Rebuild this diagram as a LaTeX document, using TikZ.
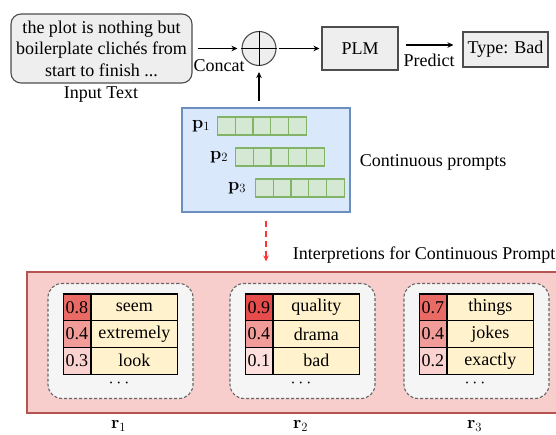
\documentclass[tikz,border=0pt]{standalone}
\usepackage{fix-cm}
\usepackage[no-math]{fontspec}
\setmainfont{Liberation Serif}
\usepackage{amsmath}
\usetikzlibrary{arrows.meta,calc,positioning}

\definecolor{boxfill}{HTML}{EEEEEE}
\definecolor{boxline}{HTML}{4D4D4D}
\definecolor{promptfill}{HTML}{DAE8FC}
\definecolor{promptline}{HTML}{6C8EBF}
\definecolor{cellfill}{HTML}{D5E8D4}
\definecolor{cellline}{HTML}{82B366}
\definecolor{interpfill}{HTML}{F8CECC}
\definecolor{interpline}{HTML}{B85450}
\definecolor{innerfill}{HTML}{F5F5F5}
\definecolor{wordfill}{HTML}{FFF2CC}
\definecolor{arrowred}{HTML}{FF3333}
\definecolor{s9}{HTML}{E64C4C}
\definecolor{s8}{HTML}{EA6B66}
\definecolor{s4}{HTML}{F19C99}
\definecolor{s3}{HTML}{FAD2D0}
\definecolor{s1}{HTML}{FDE0DE}

\tikzset{
  graybox/.style={draw=boxline, fill=boxfill, inner sep=0pt},
  tokcell/.style={draw=cellline, fill=cellfill, minimum width=17.7pt, minimum height=18pt, inner sep=0pt, anchor=west},
  innerbox/.style={draw=black!60, fill=innerfill, dash pattern=on 3pt off 2pt, rounded corners=14pt,
    minimum width=145pt, minimum height=115pt},
  numcell/.style={draw=black, minimum width=26.7pt, minimum height=26.7pt, inner sep=0pt, anchor=north west},
  wordcell/.style={draw=black, fill=wordfill, minimum width=86pt, minimum height=26.7pt, inner sep=0pt, anchor=west},
}

\begin{document}
\begin{tikzpicture}[x=1pt, y=-1pt, line width=1.1pt, font=\fontsize{18}{21.6}\selectfont,
  >={Stealth[length=6pt,width=5.5pt]}]
\useasboundingbox (0,0) rectangle (556,435);
\clip (0,0) rectangle (556,435);

% top row
\node[graybox, rounded corners=10pt, align=center, minimum width=181pt, minimum height=69pt] (inbox) at (101.5,48.5)
  {the plot is nothing but\\boilerplate clichés from\\start to finish ...};
\node (intext) at (101,95) {Input Text};
\node[graybox, circle, minimum size=34pt] (plus) at (259,48.5) {};
\draw[line width=0.8pt] (plus.north) -- (plus.south) (plus.west) -- (plus.east);
\node (concat) at (219,66) {Concat};
\node[graybox, minimum width=76pt, minimum height=43pt] (plm) at (360,48.5) {PLM};
\node[graybox, minimum width=85pt, minimum height=35pt] (type) at (505.5,49.5) {Type: Bad};
\node (predict) at (429,60) {Predict};

\draw[->, shorten <=5pt, shorten >=4pt] (inbox.east) -- (plus.west);
\draw[->, shorten <=2pt, shorten >=2pt] (plus.east) -- (plm.west);
\draw[->] ($(plm.east)+(7,-3.5)$) -- ($(type.west)+(-9,-4.5)$);

% continuous prompts
\node[draw=promptline, fill=promptfill, minimum width=168pt, minimum height=104pt] (prompt) at (266,160) {};
\draw[<-, shorten <=6pt, shorten >=6pt] (plus.south) -- (plus.south |- prompt.north);
\foreach \r/\lx/\cx/\y in {1/201/217/126, 2/219/235/157, 3/237/255/188} {
  \node (p\r) at (\lx,\y) {$\mathbf{p}_\r$};
  \foreach \c in {0,...,4}
    \node[tokcell] (c\r\c) at (\cx+\c*17.7,\y) {};
}
\node[anchor=west] (contlabel) at (356,162) {Continuous prompts};

% interpretations
\node[draw=interpline, fill=interpfill, minimum width=563pt, minimum height=141pt] (interp) at (308.5,342.5) {};
\draw[->, arrowred, line width=1.5pt, dash pattern=on 6pt off 4pt, shorten <=8pt, shorten >=10pt]
  (prompt.south) -- (prompt.south |- interp.north);
\node[anchor=west] (interplabel) at (289,255) {Interpretions for Continuous Prompts};

\foreach \i/\x/\rows in {1/120.5/{0.8/seem/s8,0.4/extremely/s4,0.3/look/s3},
                         2/302.5/{0.9/quality/s9,0.4/drama/s4,0.1/bad/s1},
                         3/476.5/{0.7/things/s8,0.4/jokes/s4,0.2/exactly/s3}} {
  \node[innerbox] (ib\i) at (\x,341) {};
  \foreach \n/\w/\s [count=\k] in \rows {
    \node[numcell, fill=\s] (n\i\k) at ($(ib\i.north west)+(15.5,{10.5+(\k-1)*26.7})$) {\n};
    \node[wordcell] (w\i\k) at (n\i\k.east) {\w};
  }
  \node (dots\i) at ($(ib\i.south)+(0,-16)$) {$\cdots$};
  \node (r\i) at ($(ib\i.south)+(-2,27)$) {$\mathbf{r}_\i$};
}
\end{tikzpicture}
\end{document}
